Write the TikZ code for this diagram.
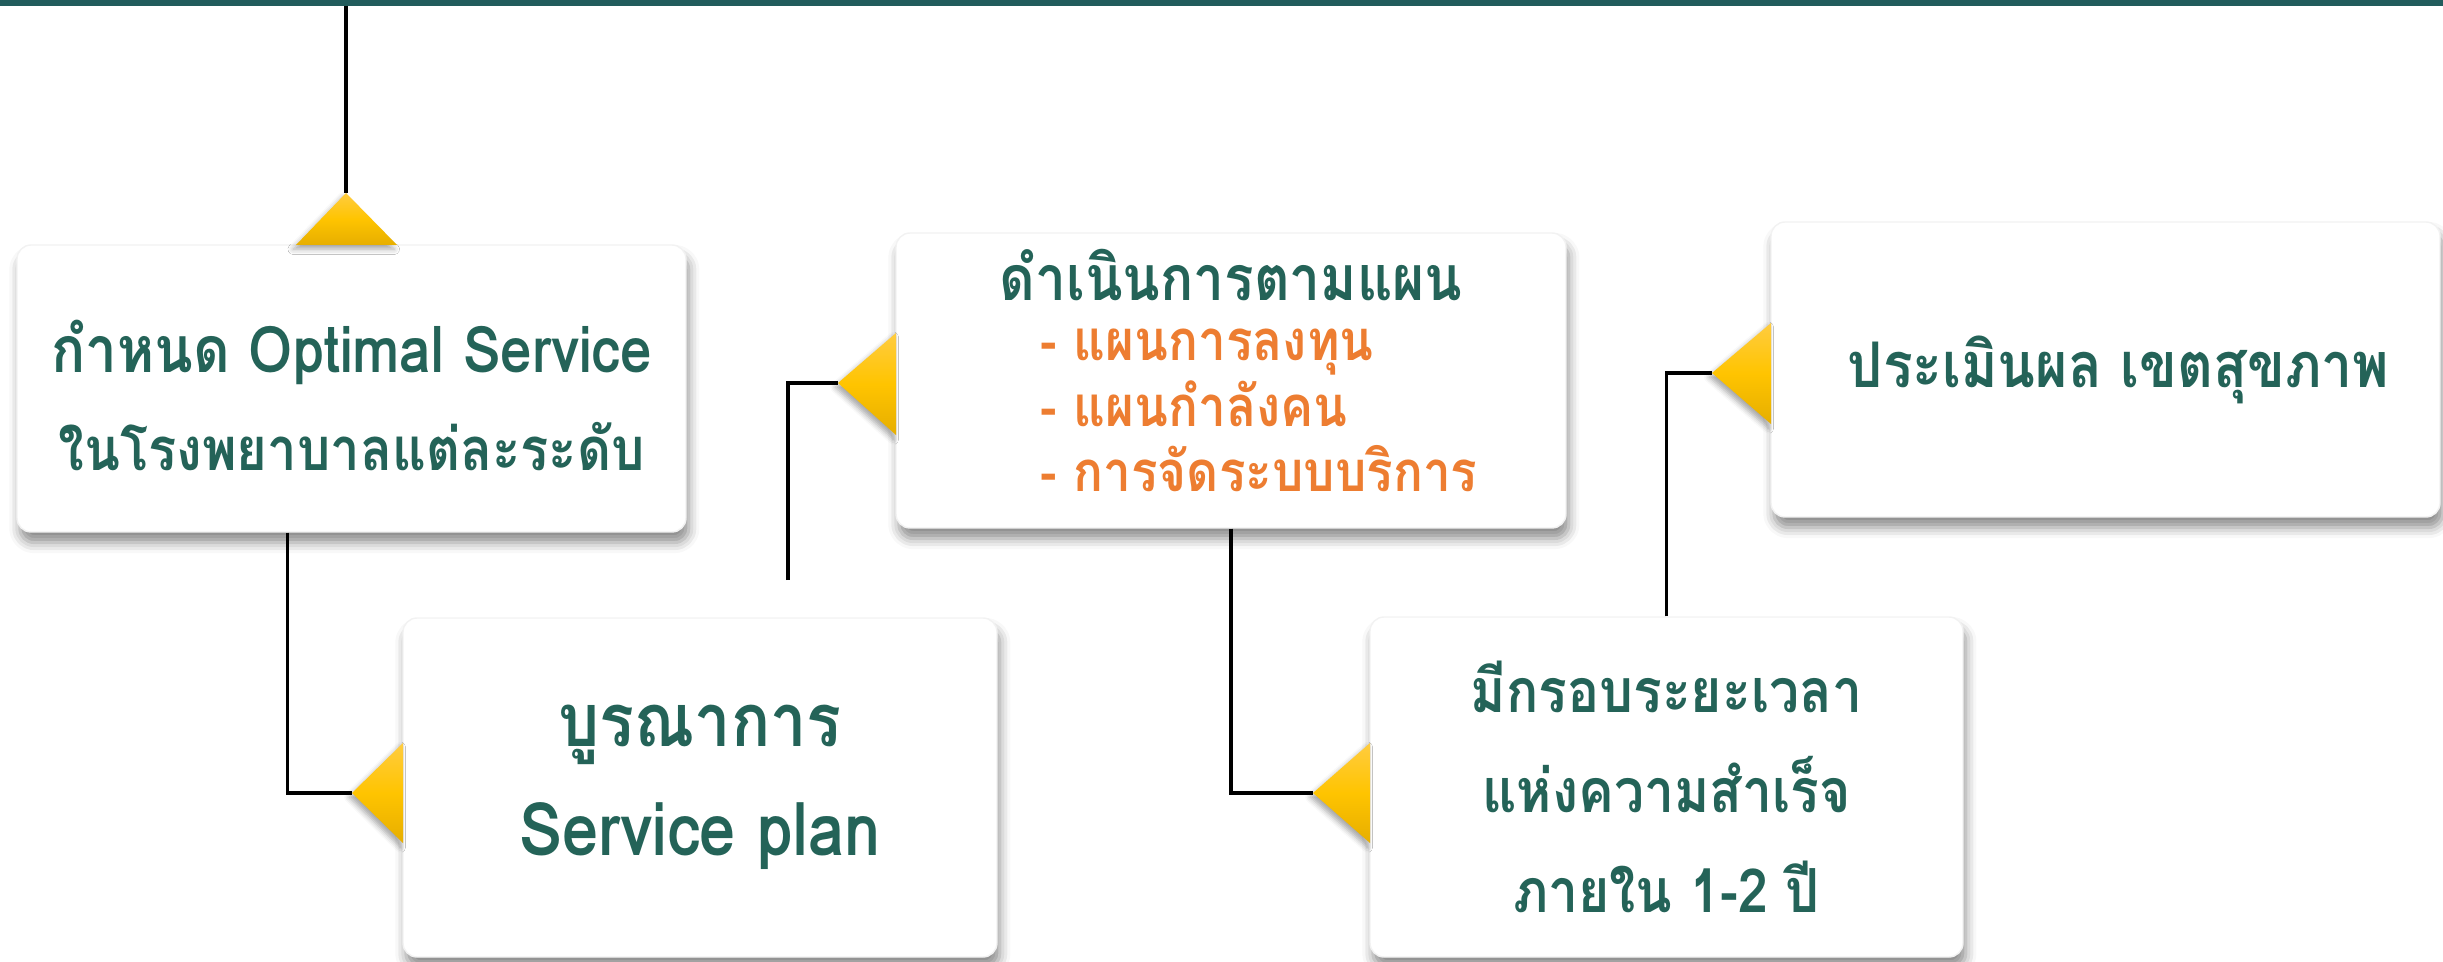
\documentclass[tikz,border=0pt]{standalone}
\usepackage{fontspec}
\newfontfamily\thaifont[Script=Thai, FakeStretch=0.88]{Loma}
\usetikzlibrary{positioning,calc,shadows.blur}
\definecolor{tealtext}{RGB}{36,99,88}
\definecolor{tealbar}{RGB}{33,92,92}
\definecolor{planorange}{RGB}{237,125,49}
\definecolor{wedgetop}{RGB}{255,204,64}
\definecolor{wedgemid}{RGB}{255,196,0}
\definecolor{wedgebot}{RGB}{230,174,0}
\tikzset{>=stealth}
\tikzset{
  card/.style={rectangle, rounded corners=4pt, fill=white, draw=black!5,
    blur shadow={shadow xshift=0.8pt, shadow yshift=-3pt, shadow blur radius=3pt, shadow opacity=45},
    text=tealtext, align=center, inner sep=0pt},
  wedge/.style={top color=wedgetop, bottom color=wedgebot, middle color=wedgemid,
    blur shadow={shadow xshift=-0.8pt, shadow yshift=-1.2pt, shadow blur radius=1.5pt, shadow opacity=35}},
  link/.style={draw=black, line width=1.1pt},
}

\begin{document}
\begin{tikzpicture}
    \useasboundingbox (0,0) rectangle (24.43,-9.62);
    \fill [tealbar] (0,0) rectangle (24.43,-0.06);

    % boxes
    \node [card, minimum width=6.69cm, minimum height=2.87cm,
      font=\thaifont\bfseries\fontsize{17}{28}\selectfont] (opt) at (3.515,-3.885)
      {\rule{0pt}{19pt}{\fontsize{18.3}{28}\selectfont กำหนด Optimal Service}\\ในโรงพยาบาลแต่ละระดับ};
    \node [card, minimum width=5.94cm, minimum height=3.39cm,
      font=\thaifont\bfseries\fontsize{21}{31}\selectfont] (serv) at (7.00,-7.875)
      {บูรณาการ\\Service plan};
    \node [card, minimum width=6.70cm, minimum height=2.95cm,
      font=\thaifont\bfseries\fontsize{17.8}{20}\selectfont] (plan) at (12.31,-3.805)
      {ดำเนินการตามแผน\\[3pt]
       \hspace{0.56cm}{\color{planorange}\fontsize{16}{18.5}\selectfont
       \begin{tabular}{@{}l@{}}- แผนการลงทุน\\- แผนกำลังคน\\- การจัดระบบบริการ\end{tabular}}};
    \node [card, minimum width=5.93cm, minimum height=3.40cm,
      font=\thaifont\bfseries\fontsize{17.3}{28.5}\selectfont] (frame) at (16.665,-7.87)
      {มีกรอบระยะเวลา\\แห่งความสำเร็จ\\ภายใน 1-2 ปี};
    \node [card, minimum width=6.69cm, minimum height=2.95cm,
      font=\thaifont\bfseries\fontsize{17.9}{22}\selectfont] (eval) at (21.055,-3.695)
      {\hspace{0.26cm}ประเมินผล เขตสุขภาพ};

    % apexes of the yellow markers
    \coordinate (top) at (3.46,-0.06);
    \coordinate (t1) at (3.46,-1.93);
    \coordinate (t2) at (3.52,-7.93);
    \coordinate (t3) at (8.38,-3.83);
    \coordinate (t4) at (13.13,-7.93);
    \coordinate (t5) at (17.12,-3.73);
    \coordinate (c2) at (7.88,-5.80);

    % connectors
    \draw [link] (top) -- (t1);
    \draw [link] ($(opt.south)+(-0.64,0)$) |- (t2);
    \draw [link] (c2) |- (t3);
    \draw [link] (plan.south) |- (t4);
    \draw [link] (frame.north) |- (t5);

    % markers
    \path [wedge] (t1) -- ++(-0.50,-0.52) -- ++(1.01,0) -- cycle;
    \path [wedge] (t2) -- ++(0.51,0.50) -- ++(0,-1.00) -- cycle;
    \path [wedge] (t3) -- ++(0.58,0.50) -- ++(0,-1.02) -- cycle;
    \path [wedge] (t4) -- ++(0.57,0.50) -- ++(0,-1.00) -- cycle;
    \path [wedge] (t5) -- ++(0.59,0.50) -- ++(0,-1.01) -- cycle;
\end{tikzpicture}
\end{document}
